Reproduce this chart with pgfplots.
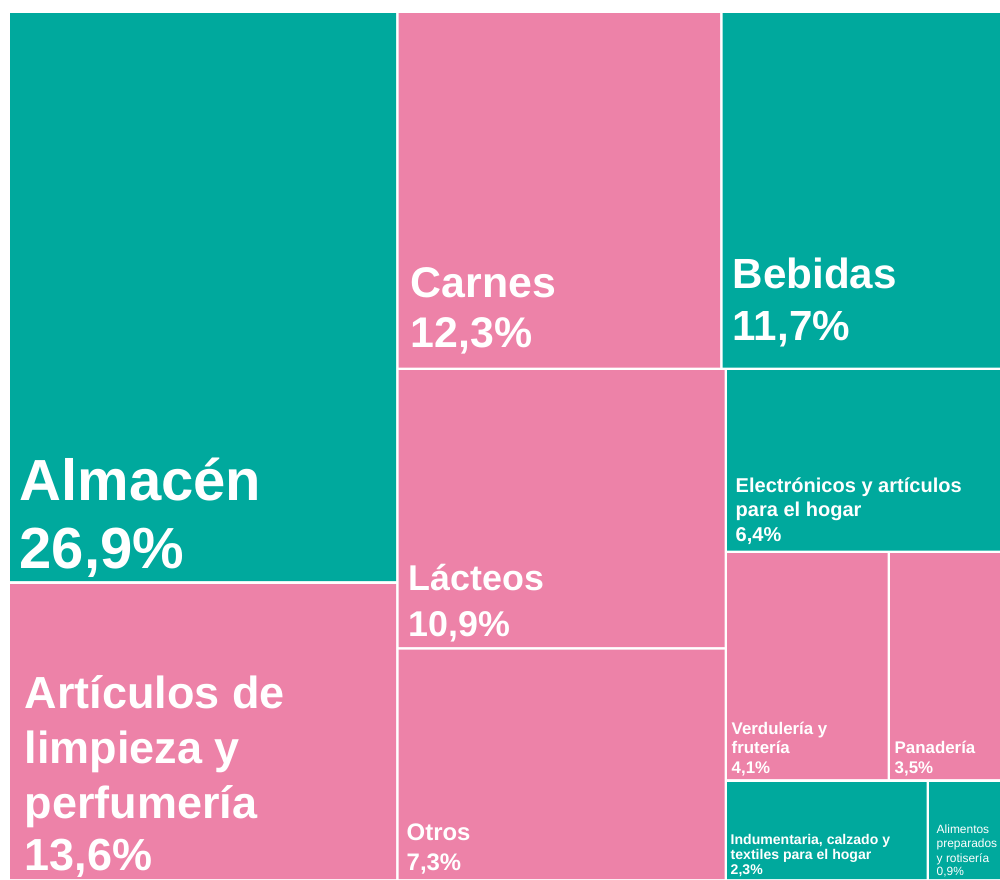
\documentclass[border=0pt]{standalone}
\usepackage{pgfplots}
\pgfplotsset{compat=1.18}
\usepackage{fontspec}
\setmainfont{Liberation Sans}

\definecolor{teal}{RGB}{0,169,157}
\definecolor{rosa}{RGB}{237,130,168}

% one line of label text: x, baseline y (pixels), size, leading, text
\newcommand{\lbl}[5]{\node[anchor=base west, inner sep=0pt, text=white,
  font=\fontsize{#3}{#4}\selectfont\bfseries] at (axis cs:#1,#2) {#5};}
\newcommand{\lblr}[5]{\node[anchor=base west, inner sep=0pt, text=white,
  font=\fontsize{#3}{#4}\selectfont] at (axis cs:#1,#2) {#5};}

\begin{document}
\begin{tikzpicture}
\begin{axis}[
  scale only axis,
  width=10cm, height=8.79cm,
  xmin=0, xmax=1000, ymin=0, ymax=879,
  y dir=reverse,
  hide axis,
  clip=false,
  axis background/.style={fill=white},
]
% Almacén
\addplot[fill=teal, draw=none] coordinates {(10,13)(396,13)(396,581)(10,581)(10,13)};
% Artículos de limpieza y perfumería
\addplot[fill=rosa, draw=none] coordinates {(10,584)(396,584)(396,879)(10,879)(10,584)};
% Carnes
\addplot[fill=rosa, draw=none] coordinates {(398.5,13)(720,13)(720,367.5)(398.5,367.5)(398.5,13)};
% Bebidas
\addplot[fill=teal, draw=none] coordinates {(722.5,13)(1000,13)(1000,367.5)(722.5,367.5)(722.5,13)};
% Lácteos
\addplot[fill=rosa, draw=none] coordinates {(398.5,370)(724.5,370)(724.5,647)(398.5,647)(398.5,370)};
% Otros
\addplot[fill=rosa, draw=none] coordinates {(398.5,649.5)(724.5,649.5)(724.5,879)(398.5,879)(398.5,649.5)};
% Electrónicos
\addplot[fill=teal, draw=none] coordinates {(727,370)(1000,370)(1000,550.5)(727,550.5)(727,370)};
% Verdulería
\addplot[fill=rosa, draw=none] coordinates {(727,553)(887.5,553)(887.5,779)(727,779)(727,553)};
% Panadería
\addplot[fill=rosa, draw=none] coordinates {(890,553)(1000,553)(1000,779)(890,779)(890,553)};
% Indumentaria
\addplot[fill=teal, draw=none] coordinates {(727,782)(926.5,782)(926.5,879)(727,879)(727,782)};
% Alimentos preparados
\addplot[fill=teal, draw=none] coordinates {(929,782)(1000,782)(1000,879)(929,879)(929,782)};

\lbl{19}{500}{16.5pt}{19pt}{Almacén}
\lbl{19}{568}{16.5pt}{19pt}{26,9\%}

\lbl{24}{708}{12.8pt}{15pt}{Artículos de}
\lbl{24}{763}{12.8pt}{15pt}{limpieza y}
\lbl{24}{818}{12.8pt}{15pt}{perfumería}
\lbl{24}{870}{12.8pt}{15pt}{13,6\%}

\lbl{410}{297}{12.2pt}{14pt}{Carnes}
\lbl{410}{347}{12.2pt}{14pt}{12,3\%}

\lbl{732}{288}{12pt}{14pt}{Bebidas}
\lbl{732}{340}{12pt}{14pt}{11,7\%}

\lbl{408}{590}{10.2pt}{13pt}{Lácteos}
\lbl{408}{636}{10.2pt}{13pt}{10,9\%}

\lbl{406}{840}{6.8pt}{8.5pt}{Otros}
\lbl{406}{870}{6.8pt}{8.5pt}{7,3\%}

\lbl{735}{492}{5.7pt}{7pt}{Electrónicos y artículos}
\lbl{735}{516}{5.7pt}{7pt}{para el hogar}
\lbl{735}{541}{5.7pt}{7pt}{6,4\%}

\lbl{731}{734}{4.8pt}{5.7pt}{Verdulería y}
\lbl{731}{753}{4.8pt}{5.7pt}{frutería}
\lbl{731}{773}{4.8pt}{5.7pt}{4,1\%}

\lbl{894}{753}{4.8pt}{5.7pt}{Panadería}
\lbl{894}{773}{4.8pt}{5.7pt}{3,5\%}

\lbl{730}{844}{4pt}{4.3pt}{Indumentaria, calzado y}
\lbl{730}{859}{4pt}{4.3pt}{textiles para el hogar}
\lbl{730}{874}{4pt}{4.3pt}{2,3\%}

\lblr{936}{833}{3.4pt}{4pt}{Alimentos}
\lblr{936}{847}{3.4pt}{4pt}{preparados}
\lblr{936}{862}{3.4pt}{4pt}{y rotisería}
\lblr{936}{875}{3.4pt}{4pt}{0,9\%}
\end{axis}
\end{tikzpicture}
\end{document}
